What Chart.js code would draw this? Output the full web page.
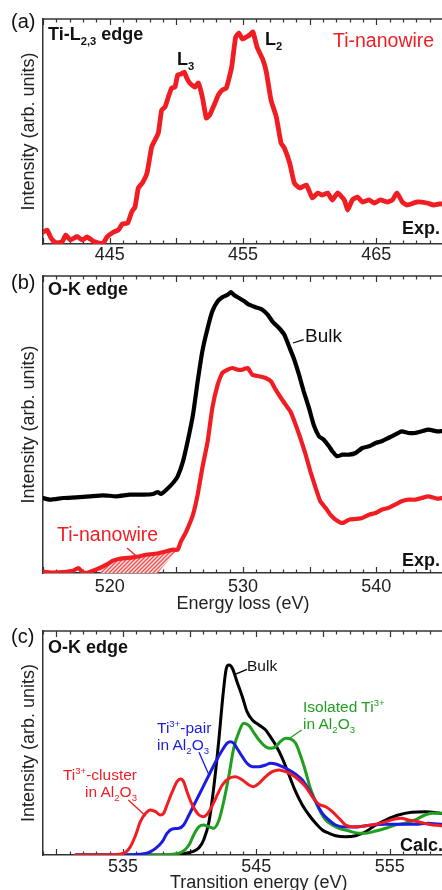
<!DOCTYPE html>
<html>
<head>
<meta charset="utf-8">
<script src="https://cdn.jsdelivr.net/npm/chart.js@4.4.1/dist/chart.umd.min.js"></script>
<style>
html, body { margin: 0; padding: 0; overflow: hidden; background: #fff; }
body { position: relative; width: 442px; height: 890px; font-family: "Liberation Sans", Arial, sans-serif; }
canvas { position: absolute; left: 0; }
.t { position: absolute; line-height: 1; white-space: nowrap; color: #111; }
.t sub, .t sup { line-height: 0; font-size: 0.62em; }
.bd { font-weight: bold; }
.red { color: #f01e23; }
.blue { color: #1c1ce0; }
.green { color: #1f9e1f; }
</style>
</head>
<body>
<canvas id="chartA" width="460" height="262" style="top:0"></canvas>
<canvas id="chartB" width="460" height="353" style="top:262px"></canvas>
<canvas id="chartC" width="460" height="275" style="top:615px"></canvas>

<div class="t" style="left:11px;top:11px;font-size:20px">(a)</div>
<div class="t bd" style="left:48px;top:25px;font-size:18px">Ti-L<sub>2,3</sub> edge</div>
<div class="t bd" style="left:177px;top:50px;font-size:18px">L<sub>3</sub></div>
<div class="t bd" style="left:265px;top:30px;font-size:18px">L<sub>2</sub></div>
<div class="t red" style="left:333px;top:30.5px;font-size:19.5px">Ti-nanowire</div>
<div class="t bd" style="left:402px;top:219px;font-size:18px">Exp.</div>

<div class="t" style="left:11px;top:272px;font-size:20px">(b)</div>
<div class="t bd" style="left:48px;top:280px;font-size:18px">O-K edge</div>
<div class="t" style="left:305px;top:325.5px;font-size:19px">Bulk</div>
<div class="t red" style="left:57px;top:525px;font-size:19.5px">Ti-nanowire</div>
<div class="t bd" style="left:402px;top:551px;font-size:18px">Exp.</div>

<div class="t" style="left:11px;top:626px;font-size:20px">(c)</div>
<div class="t bd" style="left:48px;top:638px;font-size:18px">O-K edge</div>
<div class="t" style="left:247px;top:658px;font-size:15.5px">Bulk</div>
<div class="t green" style="left:303px;top:699px;font-size:15.5px">Isolated Ti<sup>3+</sup></div>
<div class="t green" style="left:303px;top:716px;font-size:15.5px">in Al<sub>2</sub>O<sub>3</sub></div>
<div class="t blue" style="left:157px;top:720px;font-size:15.5px">Ti<sup>3+</sup>-pair</div>
<div class="t blue" style="left:157px;top:736.5px;font-size:15.5px">in Al<sub>2</sub>O<sub>3</sub></div>
<div class="t red" style="right:305px;top:767px;font-size:15.5px;text-align:right">Ti<sup>3+</sup>-cluster</div>
<div class="t red" style="right:305px;top:784px;font-size:15.5px;text-align:right">in Al<sub>2</sub>O<sub>3</sub></div>
<div class="t bd" style="left:400px;top:836px;font-size:18px">Calc.</div>
<div class="t" style="left:170px;top:873px;font-size:18px;color:#222">Transition energy (eV)</div>

<script>
// --- tick labels
const aTickLabels = [445, 455, 465];
const bTickLabels = [520, 530, 540];
const cTickLabels = [535, 545, 555];

// --- (a) Ti-L2,3 edge, Ti-nanowire (exp.)
const aEnergy = [440.0, 440.3, 440.6, 440.95, 441.45, 441.7, 442.05, 442.55, 442.95, 443.3, 443.8, 444.2, 444.5, 444.8,
  445.3, 445.65, 445.95, 446.35, 446.65, 446.9, 447.15, 447.45, 447.8, 448.15, 448.4, 448.65, 448.9, 449.15, 449.4,
  449.65, 449.9, 450.1, 450.35, 450.6, 450.75, 451.0, 451.4, 451.65, 451.95, 452.25, 452.5, 452.9, 453.15, 453.45,
  453.75, 454.15, 454.45, 454.7, 454.95, 455.25, 455.5, 455.75, 456.05, 456.5, 456.75, 457.1, 457.5, 457.85, 458.1,
  458.5, 458.85, 459.25, 459.75, 460.2, 460.6, 460.95, 461.35, 461.7, 462.1, 462.6, 462.85, 463.2, 463.6, 463.95,
  464.45, 464.85, 465.3, 465.8, 466.2, 466.55, 466.95, 467.3, 468.05, 468.8, 469.3, 469.7, 470.0];
const aIntensity = [12, 14, 6, 1, 2.5, 9, 4, 7.5, 4, 7, 2.5, 1, 0.5, 7,
  12, 14, 20, 21, 32, 37, 56, 61, 71, 97, 104, 111, 134, 137, 147,
  156, 157, 169, 170, 172, 167, 161, 157, 161, 147, 126, 129, 141, 149, 154,
  156, 177, 207, 211, 205, 207, 209, 212, 197, 184, 172, 144, 127, 101, 96,
  81, 61, 56, 59, 46, 51, 49, 51, 44, 51, 44, 34, 44, 47, 42,
  44, 41, 44, 42, 44, 51, 42, 39, 42, 41, 39, 40, 40];

// --- (b) O-K edge (exp.)
const bBulkEnergy = [514.8, 515.5, 516.5, 517.5, 518.5, 519.5, 520.5, 521.5, 522.5, 523.25, 523.6, 523.85, 524.25, 524.75,
  525.1, 525.5, 525.85, 526.25, 526.6, 526.95, 527.35, 527.7, 528.1, 528.45, 528.85, 529.1, 529.35, 529.7, 530.1,
  530.45, 530.95, 531.45, 531.85, 532.2, 532.7, 533.1, 533.45, 533.8, 534.2, 534.55, 534.95, 535.3, 535.7, 536.05,
  536.45, 536.7, 537.05, 537.45, 537.95, 538.45, 538.95, 539.45, 539.95, 540.4, 540.9, 541.4, 541.9, 542.4, 542.9,
  543.4, 543.9, 544.55, 545.0];
const bBulkIntensity = [75.7, 73.3, 75, 75.7, 76.7, 77.7, 76.7, 78.3, 78.3, 79, 81, 79, 83.3, 90,
  96.7, 111.7, 131.7, 158.3, 191.7, 221.7, 245, 261.7, 271.7, 275.7, 278.3, 281, 277.7, 275, 271.7,
  268.3, 265.7, 263.3, 258.3, 251.7, 245, 238.3, 226.7, 215, 198.3, 181.7, 165, 148.3, 136.7, 133.3,
  126.7, 121.7, 116.7, 118.3, 118.3, 120, 125, 126.7, 130, 131.7, 135, 138.3, 141.7, 140, 140,
  141.7, 143.3, 141.7, 142];
const bWireEnergy = [514.8, 515.25, 515.75, 516.5, 517.25, 517.65, 518.0, 518.4, 518.75, 519.25, 519.75, 520.25, 520.75,
  521.25, 521.75, 522.25, 522.75, 523.25, 523.75, 524.25, 524.75, 525.1, 525.35, 525.75, 526.25, 526.6, 526.95,
  527.35, 527.7, 528.1, 528.45, 528.85, 529.2, 529.6, 529.95, 530.35, 530.7, 531.2, 531.7, 532.1, 532.45, 532.85,
  533.2, 533.55, 533.95, 534.3, 534.7, 535.05, 535.45, 535.8, 536.2, 536.55, 536.95, 537.45, 537.95, 538.45, 538.95,
  539.45, 539.95, 540.4, 540.9, 541.4, 541.9, 542.4, 542.9, 543.4, 543.9, 544.55, 545.0];
const bWireIntensity = [1.7, 1, 0.5, 1, 2.3, 5, 0.5, 0.5, 2.3, 5, 8.3, 12.3, 14.3,
  15, 15.7, 16.7, 18.3, 19, 20, 21.7, 23.3, 23.3, 31.7, 41.7, 58.3, 78.3, 105,
  131.7, 165, 188.3, 200, 203.3, 205, 203.3, 203.3, 205, 198.3, 196.7, 195, 191.7, 183.3, 175,
  168.3, 161.7, 148.3, 135, 118.3, 101.7, 85, 71.7, 65, 58.3, 53.3, 50, 53.3, 54, 55,
  58.3, 60, 63.3, 65, 68.3, 71.7, 73.3, 73.3, 75, 76.7, 74.3, 75];
// hatched pre-edge region under the nanowire curve
const bHatchEnergy = [519.3, 519.75, 520.25, 520.75, 521.25, 521.75, 522.25, 522.75, 523.25, 523.75, 524.25, 524.75, 525.1];
const bHatchIntensity = [5.5, 8.3, 12.3, 14.3, 15, 15.7, 16.7, 18.3, 19, 20, 21.7, 23.3, 23.3];
const bHatchBaseEnergy = [519.3, 523.6, 525.1];
const bHatchBaseIntensity = [0, 0, 23.3];

// --- (c) O-K edge (calc.)
const cClusterEnergy = [531.45, 533.2, 534.7, 535.2, 535.55, 535.95, 536.3, 536.7, 537.05, 537.45, 537.8, 538.05, 538.3,
  538.7, 539.05, 539.3, 539.55, 539.8, 540.2, 540.7, 541.05, 541.45, 541.95, 542.45, 542.95, 543.45, 543.95, 544.45,
  544.8, 545.2, 545.7, 546.2, 546.7, 547.2, 547.7, 548.2, 548.7, 549.2, 549.7, 550.2, 550.7, 551.2, 551.7, 552.2,
  552.7, 553.2, 553.95, 554.7, 555.4, 555.9, 556.4, 557.15, 557.9, 558.8, 559.2];
const cClusterIntensity = [0, 0, 0.7, 2.7, 8.3, 20, 33.3, 41.7, 45, 43.3, 40, 41.7, 50,
  63.3, 73.3, 76, 73.3, 63.3, 50, 40, 38.3, 43.3, 56.7, 70, 76.7, 78.3, 75, 70,
  68.3, 71.7, 78.3, 83.3, 85, 83.3, 80, 75, 68.3, 58.3, 50.7, 48.3, 43.3, 36.7, 30, 28.3,
  28.3, 29.3, 30.7, 33.3, 36, 36.7, 35, 33.3, 30.7, 29.3, 29];
const cPairEnergy = [531.45, 535.2, 536.2, 536.95, 537.45, 537.95, 538.3, 538.7, 539.2, 539.55, 539.95, 540.45, 540.95,
  541.45, 541.95, 542.45, 542.8, 543.05, 543.3, 543.55, 543.95, 544.3, 544.7, 545.2, 545.7, 546.05, 546.45, 546.95,
  547.45, 547.95, 548.45, 548.95, 549.45, 549.95, 550.45, 550.95, 551.7, 552.7, 553.7, 554.7, 555.65, 556.9, 557.9,
  558.8, 559.2];
const cPairIntensity = [0, 0, 0.7, 2.7, 6.7, 13.3, 21.7, 26, 26.7, 30, 40, 53.3, 66.7,
  80, 93.3, 105, 111.7, 113.3, 111.7, 106.7, 98.3, 91.7, 88.3, 88.3, 90, 91.7, 91, 88.3,
  85, 80.7, 75, 65, 53.3, 41.7, 35, 30, 28, 28.3, 30, 30.7, 30.7, 30.7, 31.7,
  30.7, 30.7];
const cIsolatedEnergy = [531.45, 537.7, 538.7, 539.45, 539.95, 540.3, 540.7, 541.05, 541.45, 541.8, 542.2, 542.55, 542.95,
  543.3, 543.7, 544.05, 544.45, 544.8, 545.2, 545.7, 546.05, 546.45, 546.8, 547.2, 547.55, 547.95, 548.3, 548.7,
  549.05, 549.45, 549.8, 550.2, 550.7, 551.2, 551.95, 552.7, 553.2, 553.95, 554.7, 555.4, 556.15, 556.9, 557.65,
  558.15, 558.8, 559.2];
const cIsolatedIntensity = [0, 0, 0.7, 3.3, 10, 20, 28.3, 30, 28.3, 26.7, 35, 53.3, 80,
  106.7, 123.3, 131.7, 129.3, 122.7, 115, 108.3, 106.7, 108.3, 113.3, 116.7, 116, 111.7, 100, 83.3,
  66.7, 53.3, 43.3, 35, 30, 26.7, 24, 21.7, 21.7, 24, 26.7, 30, 31.7, 35, 40,
  41.7, 41.7, 41.7];
const cBulkEnergy = [531.45, 538.2, 538.95, 539.7, 540.2, 540.7, 541.05, 541.45, 541.8, 542.2, 542.5, 542.75, 542.95,
  543.2, 543.55, 543.95, 544.3, 544.7, 545.2, 545.7, 546.05, 546.45, 546.95, 547.45, 547.95, 548.45, 548.95, 549.45,
  549.95, 550.45, 550.95, 551.7, 552.45, 553.2, 553.95, 554.7, 555.65, 556.65, 557.65, 558.8, 559.2];
const cBulkIntensity = [0, 0, 0.3, 1.7, 3.3, 7.3, 15, 33.3, 66.7, 116.7, 160, 186.7, 190,
  186.7, 173.3, 158.3, 143.3, 135, 130, 125, 118.3, 110, 96.7, 80, 63.3, 50, 40, 31.7,
  25, 21.7, 19.3, 18.3, 19.3, 23.3, 30, 35, 40, 42.7, 43.3, 41.7, 41];

// --- styles
const FONT = '"Liberation Sans", Arial, sans-serif';
const axisColor = '#333';
const textColor = '#222';
const RED = '#f01e23', BLUE = '#1c1ce0', GREEN = '#1f9e1f', BLACK = '#000';

function pts(xs, ys) {
    return xs.map((x, i) => ({ x: x, y: ys[i] }));
}

// light red diagonal hatching
function hatchPattern() {
    const c = document.createElement('canvas');
    c.width = 4; c.height = 4;
    const g = c.getContext('2d');
    g.fillStyle = '#fde3e3';
    g.fillRect(0, 0, 4, 4);
    g.strokeStyle = '#f25050';
    g.lineWidth = 1.4;
    g.beginPath();
    g.moveTo(-1, 5); g.lineTo(5, -1);
    g.moveTo(-1, 1); g.lineTo(1, -1);
    g.moveTo(3, 5); g.lineTo(5, 3);
    g.stroke();
    return g.createPattern(c, 'repeat');
}

// --- frame: top border, inward ticks and label leader lines
const frameTicks = {
    id: 'frameTicks',
    beforeDatasetsDraw(chart) {
        const { ctx, chartArea: a, scales: { x } } = chart;
        ctx.save();
        ctx.strokeStyle = axisColor;
        ctx.lineWidth = 1.5;
        ctx.beginPath();
        ctx.moveTo(a.left, a.top);
        ctx.lineTo(a.right, a.top);
        ctx.stroke();
        ctx.lineWidth = 1.2;
        ctx.beginPath();
        x.ticks.forEach(t => {
            const px = Math.round(x.getPixelForValue(t.value)) + 0.5;
            const len = Math.round(t.value) % 5 === 0 ? 6 : 3.5;
            ctx.moveTo(px, a.bottom); ctx.lineTo(px, a.bottom - len);
            ctx.moveTo(px, a.top); ctx.lineTo(px, a.top + len);
        });
        ctx.stroke();
        ctx.restore();
    },
    afterDatasetsDraw(chart, args, opts) {
        const { ctx, scales: { x, y } } = chart;
        (opts.leaders || []).forEach(l => {
            ctx.save();
            ctx.strokeStyle = l[4];
            ctx.lineWidth = 1.3;
            ctx.beginPath();
            ctx.moveTo(x.getPixelForValue(l[0]), y.getPixelForValue(l[1]));
            ctx.lineTo(x.getPixelForValue(l[2]), y.getPixelForValue(l[3]));
            ctx.stroke();
            ctx.restore();
        });
    }
};

function crearGrafico(id, cfg) {
    const ctx = document.getElementById(id).getContext('2d');
    return new Chart(ctx, {
        type: 'line',
        data: { datasets: cfg.datasets },
        options: {
            responsive: false,
            animation: false,
            devicePixelRatio: 1,
            layout: { padding: { top: cfg.padTop, right: 17, left: 0, bottom: 0 } },
            plugins: {
                legend: { display: false },
                tooltip: { enabled: false },
                frameTicks: { leaders: cfg.leaders || [] }
            },
            elements: {
                point: { radius: 0 },
                line: { borderJoinStyle: 'round', borderCapStyle: 'round' }
            },
            scales: {
                x: {
                    type: 'linear',
                    min: cfg.xMin,
                    max: cfg.xMax,
                    grid: { display: false, drawTicks: false },
                    border: { display: true, color: axisColor, width: 1.5 },
                    ticks: {
                        stepSize: 1,
                        maxTicksLimit: 100,
                        autoSkip: false,
                        maxRotation: 0,
                        padding: cfg.tickPad,
                        color: textColor,
                        font: { family: FONT, size: 18 },
                        callback: v => cfg.tickLabels.includes(Math.round(v)) ? String(Math.round(v)) : ''
                    },
                    title: cfg.xTitle
                        ? { display: true, text: cfg.xTitle, color: textColor, font: { family: FONT, size: 18 }, padding: { top: 0, bottom: 0 } }
                        : { display: false },
                    afterFit: s => { s.height = cfg.xHeight; }
                },
                y: {
                    min: 0,
                    max: cfg.yMax,
                    grid: { display: false, drawTicks: false },
                    border: { display: true, color: axisColor, width: 1.5 },
                    ticks: { display: false },
                    title: {
                        display: true,
                        text: 'Intensity (arb. units)',
                        color: textColor,
                        font: { family: FONT, size: 18 },
                        padding: { top: 18, bottom: 0 }
                    },
                    afterFit: s => { s.width = 43; }
                }
            }
        },
        plugins: [frameTicks]
    });
}

// --- (a)
crearGrafico('chartA', {
    padTop: 19, xHeight: 18, tickPad: 0,
    xMin: 440, xMax: 470, yMax: 225,
    tickLabels: aTickLabels,
    datasets: [
        { data: pts(aEnergy, aIntensity), borderColor: RED, borderWidth: 4.8, tension: 0.15, fill: false }
    ]
});

// --- (b)
crearGrafico('chartB', {
    padTop: 14, xHeight: 42, tickPad: 3,
    xMin: 515, xMax: 545, yMax: 297,
    tickLabels: bTickLabels,
    xTitle: 'Energy loss (eV)',
    leaders: [
        [533.75, 230, 534.55, 233.3, BLACK],
        [521.3, 25, 522.0, 17, RED]
    ],
    datasets: [
        { data: pts(bWireEnergy, bWireIntensity), borderColor: RED, borderWidth: 4.2, tension: 0.15, fill: false },
        { data: pts(bBulkEnergy, bBulkIntensity), borderColor: BLACK, borderWidth: 4.2, tension: 0.15, fill: false },
        { data: pts(bHatchEnergy, bHatchIntensity), borderWidth: 0, borderColor: 'rgba(0,0,0,0)', backgroundColor: hatchPattern(), fill: '+1' },
        { data: pts(bHatchBaseEnergy, bHatchBaseIntensity), borderWidth: 0, borderColor: 'rgba(0,0,0,0)', fill: false }
    ]
});

// --- (c)
crearGrafico('chartC', {
    padTop: 16, xHeight: 35, tickPad: 1,
    xMin: 529, xMax: 559, yMax: 224,
    tickLabels: cTickLabels,
    leaders: [
        [543.4, 180.7, 544.3, 185.7, BLACK],
        [547.5, 116.7, 548.4, 125, GREEN],
        [540.7, 102.7, 541.45, 80, BLUE],
        [535.4, 55, 536.7, 39, RED]
    ],
    datasets: [
        { data: pts(cClusterEnergy, cClusterIntensity), borderColor: RED, borderWidth: 3, cubicInterpolationMode: 'monotone', fill: false },
        { data: pts(cPairEnergy, cPairIntensity), borderColor: BLUE, borderWidth: 3, cubicInterpolationMode: 'monotone', fill: false },
        { data: pts(cIsolatedEnergy, cIsolatedIntensity), borderColor: GREEN, borderWidth: 3, cubicInterpolationMode: 'monotone', fill: false },
        { data: pts(cBulkEnergy, cBulkIntensity), borderColor: BLACK, borderWidth: 3, cubicInterpolationMode: 'monotone', fill: false }
    ]
});
</script>
</body>
</html>
